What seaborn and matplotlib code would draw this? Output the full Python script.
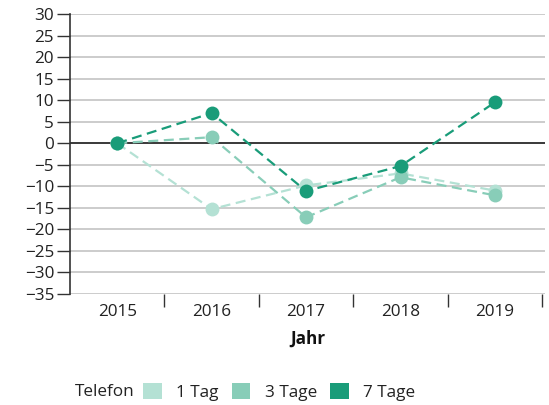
import matplotlib
matplotlib.use("Agg")
import matplotlib.pyplot as plt
import seaborn as sns
import pandas as pd
from matplotlib.patches import Patch

years = ["2015", "2016", "2017", "2018", "2019"]
series_names = ["1 Tag", "3 Tage", "7 Tage"]
v_1tag = [0, -15.3, -9.8, -7.0, -11.0]
v_3tage = [0, 1.4, -17.2, -7.9, -12.1]
v_7tage = [0, 7.0, -11.1, -5.3, 9.5]
colors = ["#b4e1d4", "#88cdb8", "#199c79"]
yticks = list(range(-35, 31, 5))

sns.set_theme(style="white")
plt.rcParams['font.family'] = ['Open Sans', 'DejaVu Sans']
FS = 12.3

rows = []
for name, vals in zip(series_names, [v_1tag, v_3tage, v_7tage]):
    for y, v in zip(years, vals):
        rows.append({"Jahr": y, "Wert": v, "Telefon": name})
df = pd.DataFrame(rows)

fig = plt.figure(figsize=(5.49, 4.05), dpi=100)
ax = fig.add_axes([70/549, 1-294/405, 475/549, 280/405])

for y in yticks:
    ax.axhline(y, color="#c8c8c8", lw=1.3, zorder=0)
ax.axhline(0, color="#222222", lw=1.2, zorder=1)

sns.lineplot(data=df, x="Jahr", y="Wert", hue="Telefon", palette=colors,
             hue_order=series_names, marker="o", markersize=10,
             markeredgewidth=0, lw=1.6, linestyle=(0, (4.5, 2.5)),
             legend=False, ax=ax, zorder=3, sort=False)

ax.set_xlim(-0.5, 4.53)
ax.set_ylim(-35, 30)
ax.set_yticks(yticks)
ax.set_yticklabels([str(t).replace("-", "\u2212") for t in yticks], fontsize=FS, color="#222222")
ax.set_xticks(range(5))
ax.set_xticklabels(years, fontsize=FS, color="#222222")
ax.tick_params(axis="x", length=0, pad=7)
ax.tick_params(axis="y", left=True, length=9.5, width=1, color="#333333", pad=2)
ax.set_xticks([0.5, 1.5, 2.5, 3.5, 4.5], minor=True)
ax.tick_params(axis="x", which="minor", bottom=True, length=9, width=1, color="#333333", direction="out")
for s in ["top", "right", "bottom"]:
    ax.spines[s].set_visible(False)
ax.spines["left"].set_color("#333333")
ax.spines["left"].set_linewidth(1.2)
ax.set_ylabel("")
ax.set_xlabel("Jahr", fontsize=FS, fontweight="bold", color="#111111", labelpad=7)

handles = [Patch(facecolor=c, edgecolor="none") for c in colors]
fig.text(75/549, 1-392/405, "Telefon", fontsize=FS, color="#222222", va="center", ha="left")
fig.legend(handles, series_names, loc="center left", bbox_to_anchor=(143/549, 1-392/405),
           ncol=3, frameon=False, fontsize=FS, handlelength=1.1, handleheight=1.1,
           handletextpad=0.85, columnspacing=0.75, borderaxespad=0, borderpad=0,
           labelcolor="#222222")

fig.savefig("out.png", dpi=100)
